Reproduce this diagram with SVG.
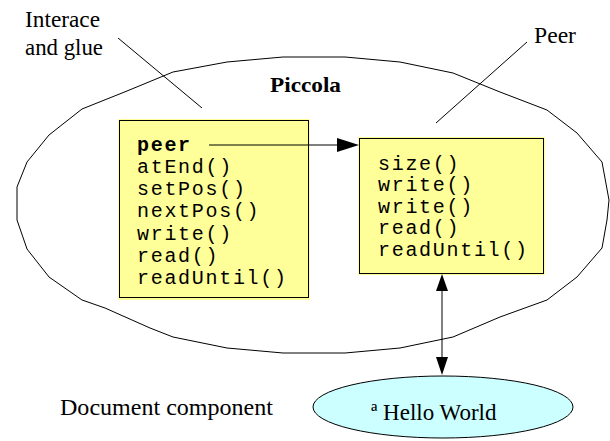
<svg xmlns="http://www.w3.org/2000/svg" width="610" height="441" viewBox="0 0 610 441">
  <style>
    .label { font-family: "Liberation Serif", "Times New Roman", serif; font-size: 23px; fill: #000; }
    .title { font-family: "Liberation Serif", "Times New Roman", serif; font-size: 22px; font-weight: bold; fill: #000; }
    .code { font-family: "Liberation Mono", "Courier New", monospace; font-size: 20px; letter-spacing: 1.7px; fill: #000; }
    .code-bold { font-weight: bold; }
    .line { stroke: #000; stroke-width: 1; fill: none; }
    .head { fill: #000; stroke: none; }
    .box { fill: #ffff99; stroke: #000; stroke-width: 1; }
    .halo { fill: #ffff99; stroke: none; }
  </style>

  <rect width="610" height="441" fill="#ffffff"/>

  <!-- Piccola boundary -->
  <g id="piccola">
    <polygon class="line" points="17,205 17,187 27,162 49,135 82,109 127,91 173,72 227,62 283,57 345,57 400,62 453,73 500,92 547,110 577,133 602,162 609,200 607,220 602,248 577,277 547,300 500,317 453,337 400,348 345,353 283,353 227,348 173,337 150,328 105,308 82,300 49,277 27,249 17,220"/>
    <text class="title" x="270" y="92" textLength="71" lengthAdjust="spacingAndGlyphs">Piccola</text>
  </g>

  <!-- Callout labels -->
  <g id="label-glue">
    <text class="label" x="25" y="27" textLength="75" lengthAdjust="spacingAndGlyphs">Interace</text>
    <text class="label" x="25" y="55" textLength="78" lengthAdjust="spacingAndGlyphs">and glue</text>
  </g>
  <g id="label-peer">
    <text class="label" x="534" y="43" textLength="42" lengthAdjust="spacingAndGlyphs">Peer</text>
  </g>
  <g id="label-document">
    <text class="label" x="60" y="415" textLength="213" lengthAdjust="spacingAndGlyphs">Document component</text>
  </g>

  <!-- Interface and glue object -->
  <g id="glue">
    <rect class="halo" x="118" y="119" width="192" height="181"/>
    <rect class="box" x="119.5" y="120.5" width="189" height="177"/>
    <text class="code code-bold" x="137" y="151">peer</text>
    <text class="code" x="137" y="173">atEnd()</text>
    <text class="code" x="137" y="195">setPos()</text>
    <text class="code" x="137" y="217">nextPos()</text>
    <text class="code" x="137" y="240">write()</text>
    <text class="code" x="137" y="262">read()</text>
    <text class="code" x="137" y="284">readUntil()</text>
  </g>

  <!-- Peer object -->
  <g id="peer">
    <rect class="halo" x="358" y="137" width="187" height="138"/>
    <rect class="box" x="359.5" y="138.5" width="184" height="135"/>
    <text class="code" x="378" y="169.5">size()</text>
    <text class="code" x="378" y="191">write()</text>
    <text class="code" x="378" y="212.5">write()</text>
    <text class="code" x="378" y="234">read()</text>
    <text class="code" x="378" y="255.5">readUntil()</text>
  </g>

  <!-- Document component -->
  <g id="document">
    <ellipse cx="443" cy="407" rx="130" ry="31" fill="#ccffff" stroke="#000" stroke-width="1"/>
    <text class="label" x="371" y="420">ª Hello World</text>
  </g>

  <!-- Connectors -->
  <g id="connectors">
    <line class="line" x1="118" y1="38" x2="202" y2="108"/>
    <line class="line" x1="527" y1="42" x2="436" y2="123"/>
    <line class="line" x1="209" y1="145" x2="338" y2="145"/>
    <polygon class="head" points="337,138 359,145 337,152"/>
    <line class="line" x1="442" y1="290" x2="442" y2="358"/>
    <polygon class="head" points="442,274 436,291 448,291"/>
    <polygon class="head" points="442,375 436,357 448,357"/>
  </g>
</svg>
